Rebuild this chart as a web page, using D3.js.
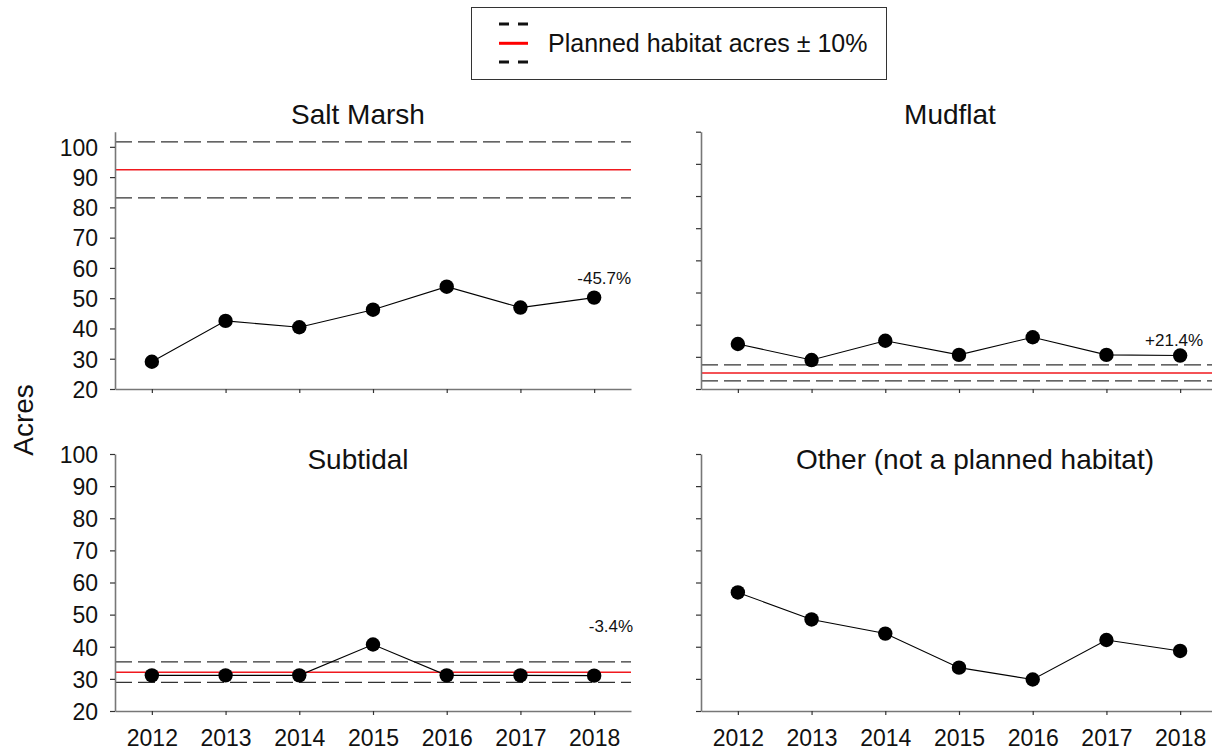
<!DOCTYPE html>
<html lang="en">
<head>
  <meta charset="UTF-8">
  <title>Habitat acres</title>
  <script src="https://d3js.org/d3.v7.min.js"></script>
</head>
<body style="margin: 0; overflow: hidden; background: #fff;">

<script>
  // Data
  const years = [2012, 2013, 2014, 2015, 2016, 2017, 2018];
  const panelNames = ['Salt Marsh', 'Mudflat', 'Subtidal', 'Other (not a planned habitat)'];
  const saltMarsh = [29.0, 42.5, 40.4, 46.2, 53.8, 46.9, 50.2];
  const mudflat = [34.0, 29.0, 35.0, 30.6, 36.1, 30.6, 30.4];
  const subtidal = [31.1, 31.1, 31.1, 40.7, 31.1, 31.1, 31.0];
  const other = [56.9, 48.5, 44.1, 33.5, 29.8, 42.1, 38.7];
  const plannedAcres = [92.4, 25.0, 32.1, null];
  const changeLabels = ['-45.7%', '+21.4%', '-3.4%', null];
  const yTicks = [20, 30, 40, 50, 60, 70, 80, 90, 100];

  const series = [saltMarsh, mudflat, subtidal, other];

  const W = 1212, H = 753;
  const font = '"Liberation Sans", Arial, sans-serif';

  // Panel placement (left/right/top/bottom of plotting area, title, change label spot)
  const layout = [
    { left: 115, right: 631, top: 131.7, bottom: 389, titleX: 358, titleY: 124, xLabels: false, yLabels: true,
      lab: { anchor: 'end', dx: 37, v: 54.8 } },
    { left: 701, right: 1217, top: 131.7, bottom: 389, titleX: 950, titleY: 124, xLabels: false, yLabels: false,
      lab: { anchor: 'middle', dx: -6, v: 33.5 } },
    { left: 115, right: 631, top: 454, bottom: 711, titleX: 358, titleY: 469, xLabels: true, yLabels: true,
      lab: { anchor: 'end', dx: 39, v: 44.5 } },
    { left: 701, right: 1217, top: 454, bottom: 711, titleX: 975, titleY: 469, xLabels: true, yLabels: false,
      lab: null }
  ];

  const svg = d3.select('body').append('svg')
    .attr('width', W)
    .attr('height', H)
    .style('font-family', font);

  //Legend
  const legend = svg.append('g');
  legend.append('rect')
    .attr('x', 471.5).attr('y', 7.5)
    .attr('width', 415).attr('height', 72)
    .attr('fill', 'none').attr('stroke', '#333').attr('stroke-width', 1);
  [24, 62].forEach(function(yy) {
    legend.append('line')
      .attr('x1', 499).attr('x2', 528).attr('y1', yy).attr('y2', yy)
      .attr('stroke', '#111').attr('stroke-width', 3)
      .attr('stroke-dasharray', '10,9');
  });
  legend.append('line')
    .attr('x1', 499).attr('x2', 528).attr('y1', 43.3).attr('y2', 43.3)
    .attr('stroke', '#f00').attr('stroke-width', 3);
  legend.append('text')
    .attr('x', 548).attr('y', 52)
    .attr('font-size', 25)
    .attr('fill', '#111')
    .text('Planned habitat acres \u00b1 10%');

  //Y axis title
  svg.append('text')
    .attr('transform', 'translate(33,420) rotate(-90)')
    .attr('text-anchor', 'middle')
    .attr('font-size', 28)
    .attr('fill', '#111')
    .text('Acres');

  layout.forEach(function(p, i) {
    const vals = series[i];
    const plan = plannedAcres[i];

    // top of y domain grows if the +10% line goes over 100
    let yMax = 100;
    if (plan !== null && plan * 1.1 > 100) yMax = Math.ceil(plan * 1.1 / 5) * 5;

    const x = d3.scalePoint().domain(years).range([p.left, p.right]).padding(0.5);
    const y = d3.scaleLinear().domain([20, yMax]).range([p.bottom, p.top]);

    const g = svg.append('g');

    // clip so the right hand panels get cut by the page edge
    const clipId = 'clip' + i;
    svg.append('clipPath').attr('id', clipId)
      .append('rect')
      .attr('x', p.left).attr('y', p.top - 10)
      .attr('width', p.right - p.left).attr('height', p.bottom - p.top + 10);

    const inner = g.append('g').attr('clip-path', 'url(#' + clipId + ')');

    //Planned lines
    if (plan !== null) {
      [plan * 1.1, plan * 0.9].forEach(function(v) {
        inner.append('line')
          .attr('x1', p.left).attr('x2', p.right)
          .attr('y1', y(v)).attr('y2', y(v))
          .attr('stroke', '#333').attr('stroke-width', 1.2)
          .attr('stroke-dasharray', '17,6');
      });
      inner.append('line')
        .attr('x1', p.left).attr('x2', p.right)
        .attr('y1', y(plan)).attr('y2', y(plan))
        .attr('stroke', '#f0191e').attr('stroke-width', 1.5);
    }

    //Axes
    const yAxis = d3.axisLeft(y)
      .tickValues(yTicks)
      .tickSize(5)
      .tickSizeOuter(0)
      .tickPadding(12)
      .tickFormat(p.yLabels ? d3.format('d') : '');
    const gy = g.append('g')
      .attr('transform', `translate(${p.left},0)`)
      .call(yAxis);

    const xAxis = d3.axisBottom(x)
      .tickSize(4)
      .tickSizeOuter(0)
      .tickFormat(p.xLabels ? d3.format('d') : '');
    const gx = g.append('g')
      .attr('transform', `translate(0,${p.bottom})`)
      .call(xAxis);

    [gy, gx].forEach(function(ax) {
      ax.select('.domain').attr('stroke', '#777').attr('stroke-width', 1.6);
      ax.selectAll('.tick line').attr('stroke', '#333').attr('stroke-width', 1.2);
      ax.selectAll('.tick text')
        .attr('font-size', 23)
        .attr('font-family', font)
        .attr('fill', '#111');
    });
    gy.selectAll('.tick text').attr('dy', '0.36em');
    gx.selectAll('.tick text').attr('y', 35).attr('dy', 0);

    //Title
    g.append('text')
      .attr('x', p.titleX).attr('y', p.titleY)
      .attr('text-anchor', 'middle')
      .attr('font-size', 28)
      .attr('fill', '#111')
      .text(panelNames[i]);

    //Series line + dots
    const line = d3.line()
      .x(function(d, j) { return x(years[j]); })
      .y(function(d) { return y(d); });

    g.append('path')
      .datum(vals)
      .attr('d', line)
      .attr('fill', 'none')
      .attr('stroke', '#000')
      .attr('stroke-width', 1.1);

    g.selectAll('circle.pt')
      .data(vals)
      .join('circle')
      .attr('class', 'pt')
      .attr('cx', function(d, j) { return x(years[j]); })
      .attr('cy', function(d) { return y(d); })
      .attr('r', 7.2)
      .attr('fill', '#000');

    //Change label
    if (changeLabels[i] !== null && p.lab) {
      g.append('text')
        .attr('x', x(years[years.length - 1]) + p.lab.dx)
        .attr('y', y(p.lab.v))
        .attr('text-anchor', p.lab.anchor)
        .attr('font-size', 17)
        .attr('fill', '#111')
        .text(changeLabels[i]);
    }
  });
</script>

</body>
</html>
